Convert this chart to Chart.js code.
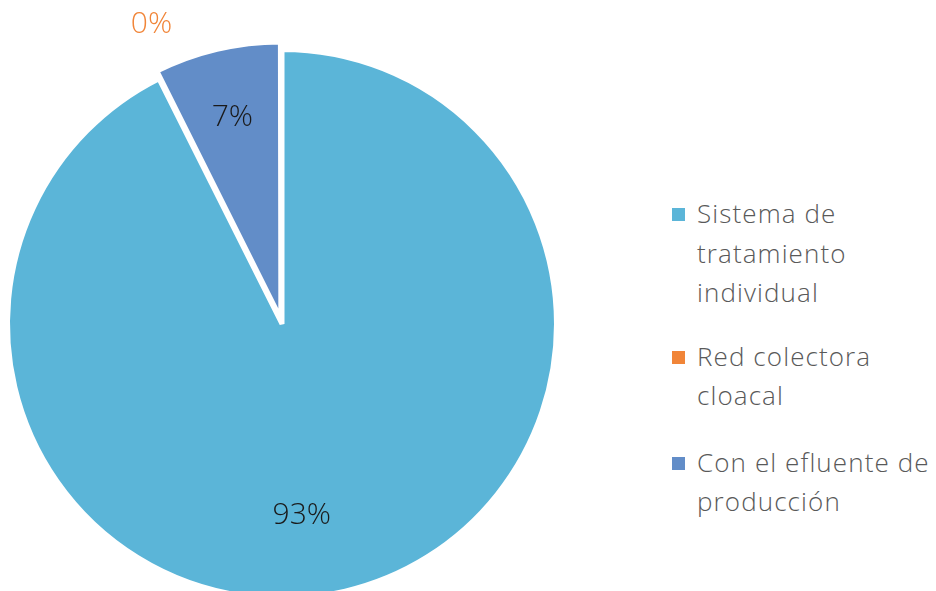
<!DOCTYPE html>
<html>
<head>
<meta charset="utf-8">
<script src="https://cdn.jsdelivr.net/npm/chart.js@4/dist/chart.umd.min.js"></script>
<style>
  html, body { margin: 0; padding: 0; width: 936px; height: 591px; overflow: hidden; background: #ffffff; }
  #pieBox { position: absolute; left: 0; top: 0; width: 564px; height: 648px; }
  #legend { position: absolute; left: 672px; top: 194px; font-family: "Open Sans", sans-serif; font-weight: 350; font-size: 26px; line-height: 39.5px; color: #595959; letter-spacing: 1.1px; white-space: nowrap; }
  .item { position: relative; padding-left: 25px; }
  .item:nth-child(1) { margin-bottom: 24px; }
  .item:nth-child(2) { margin-bottom: 27px; }
  .sw { position: absolute; left: 0; top: 14px; width: 13px; height: 13px; }
</style>
</head>
<body>
<div id="pieBox"><canvas id="c"></canvas></div>
<div id="legend"></div>
<script>
// ---- data ----
const categories = ["Sistema de tratamiento individual", "Red colectora cloacal", "Con el efluente de producción"];
const legendLines = [["Sistema de", "tratamiento", "individual"], ["Red colectora", "cloacal"], ["Con el efluente de", "producción"]];
const values = [92.6, 0, 7.4];
const sliceColors = ["#5BB5D8", "#F18538", "#628DC8"];
const labelColors = ["#1a1a1a", "#F18538", "#1a1a1a"];

// label placement around each slice (angle shift in degrees, radius factor)
const labelAngleShift = [7.4, 3.1, -0.2];
const labelRadiusFactor = [0.70, 1.19, 0.774];

const pctLabels = {
  id: 'pctLabels',
  afterDatasetsDraw(chart) {
    const ctx = chart.ctx;
    const meta = chart.getDatasetMeta(0);
    const data = chart.data.datasets[0].data;
    const total = data.reduce((a, b) => a + b, 0);
    ctx.save();
    ctx.font = '350 30px "Open Sans", sans-serif';
    ctx.textAlign = 'center';
    ctx.textBaseline = 'middle';
    meta.data.forEach((arc, i) => {
      const p = arc.getProps(['x', 'y', 'startAngle', 'endAngle', 'outerRadius'], true);
      const mid = (p.startAngle + p.endAngle) / 2 + labelAngleShift[i] * Math.PI / 180;
      const r = p.outerRadius * labelRadiusFactor[i];
      const x = p.x + Math.cos(mid) * r;
      const y = p.y + Math.sin(mid) * r;
      ctx.fillStyle = labelColors[i];
      ctx.fillText(Math.round(data[i] / total * 100) + '%', x, y);
    });
    ctx.restore();
  }
};

new Chart(document.getElementById('c'), {
  type: 'pie',
  data: {
    labels: categories,
    datasets: [{
      data: values,
      backgroundColor: sliceColors,
      borderColor: '#ffffff',
      borderWidth: 5,
      offset: [0, 0, 20],
      hoverOffset: 0
    }]
  },
  options: {
    responsive: true,
    maintainAspectRatio: false,
    animation: false,
    events: [],
    radius: 274.5,
    layout: { padding: 0 },
    plugins: { legend: { display: false }, tooltip: { enabled: false } }
  },
  plugins: [pctLabels]
});

// HTML legend built from the arrays
const lg = document.getElementById('legend');
legendLines.forEach((lines, i) => {
  const d = document.createElement('div');
  d.className = 'item';
  const s = document.createElement('span');
  s.className = 'sw';
  s.style.background = sliceColors[i];
  d.appendChild(s);
  lines.forEach((t, k) => {
    if (k) d.appendChild(document.createElement('br'));
    d.appendChild(document.createTextNode(t));
  });
  lg.appendChild(d);
});
</script>
</body>
</html>
